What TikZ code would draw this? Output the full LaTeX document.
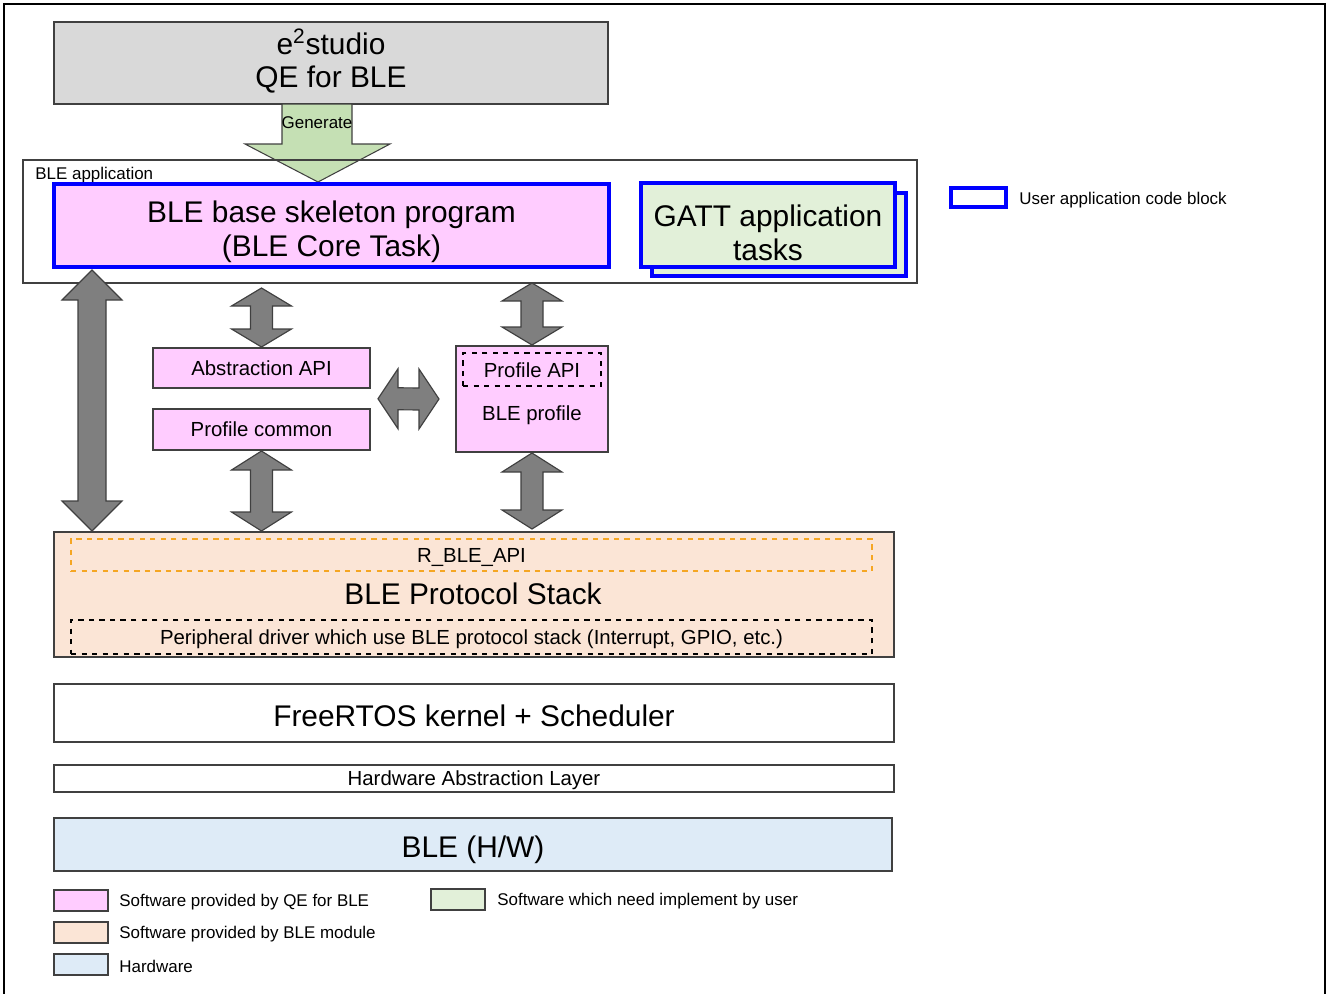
\documentclass[tikz,border=0pt]{standalone}
\usepackage{fontspec}
\setmainfont{Liberation Sans}
\usetikzlibrary{calc}
\definecolor{grayfill}{HTML}{D9D9D9}
\definecolor{pinkfill}{HTML}{FFCCFF}
\definecolor{peachfill}{HTML}{FBE5D6}
\definecolor{bluefill}{HTML}{DEEBF7}
\definecolor{greenfill}{HTML}{E2F0D9}
\definecolor{genfill}{HTML}{C5E0B4}
\definecolor{edgegray}{HTML}{404040}
\definecolor{arrfill}{HTML}{7F7F7F}
\definecolor{userblue}{HTML}{0000FF}
\definecolor{dashorange}{HTML}{F5A623}
\newcommand\lgfont{\fontsize{17}{19.2}\selectfont}
\newcommand\mdfont{\fontsize{11.6}{14}\selectfont}
\newcommand\smfont{\fontsize{9.65}{11}\selectfont}
\newcommand\bx[6]{\node[#1, minimum width={((#4)-(#2))*0.02cm}, minimum height={((#5)-(#3))*0.02cm}] (#6) at ({((#2)+(#4))/2},{((#3)+(#5))/2})}
\newcommand\vdarr[5]{\filldraw[darr] (#1) -- ($(#1)+(#4,#5)$) -- ($(#1)+(#3,#5)$) -- ($(#2)+(#3,-#5)$) -- ($(#2)+(#4,-#5)$) -- (#2) -- ($(#2)+(-#4,-#5)$) -- ($(#2)+(-#3,-#5)$) -- ($(#1)+(-#3,#5)$) -- ($(#1)+(-#4,#5)$) -- cycle;}
\newcommand\hdarr[5]{\filldraw[darr] (#1) -- ($(#1)+(#5,-#4)$) -- ($(#1)+(#5,-#3)$) -- ($(#2)+(-#5,-#3)$) -- ($(#2)+(-#5,-#4)$) -- (#2) -- ($(#2)+(-#5,#4)$) -- ($(#2)+(-#5,#3)$) -- ($(#1)+(#5,#3)$) -- ($(#1)+(#5,#4)$) -- cycle;}
\begin{document}
\begin{tikzpicture}[x=0.02cm,y=-0.02cm,
  base/.style={draw=edgegray, line width=0.6pt, inner sep=0pt, outer sep=0pt, align=center},
  userbox/.style={draw=userblue, line width=1.9pt, inner sep=0pt, outer sep=0pt, align=center},
  darr/.style={fill=arrfill, draw=edgegray, line width=0.65pt, line join=miter},
  genarr/.style={fill=genfill, draw=edgegray, line width=0.6pt},
  swatch/.style={base, minimum width={54*0.02cm}, minimum height={21*0.02cm}},
  txt/.style={inner sep=0pt, align=center},
  lbl/.style={anchor=west, inner sep=0pt, font=\smfont}]
\useasboundingbox (0,0) rectangle (1326,994);
% outer frame
\draw[line width=1.1pt] (4,1000) -- (4,4) -- (1325,4) -- (1325,1000);

% e2 studio
\bx{base, fill=grayfill}{54}{22}{608}{104}{e2} {};
\node[txt, font=\lgfont] (e2t) at ($(e2.center)+(0,-2)$) {e\textsuperscript{2}studio\\QE for BLE};
\coordinate (g) at (e2.south);
\filldraw[genarr] ($(g)+(-49,0)$) -- ($(g)+(21,0)$) -- ($(g)+(21,40)$) -- ($(g)+(59,40)$) -- ($(g)+(-13,78)$) -- ($(g)+(-86,40)$) -- ($(g)+(-49,40)$) -- cycle;
\node[font=\smfont, inner sep=0pt] (gen) at ($(g)+(-14,19)$) {Generate};

% BLE application frame
\bx{base, line width=0.7pt}{23}{160}{917}{283}{app} {};
\node[lbl] (applbl) at (35,175) {BLE application};
\bx{userbox, fill=pinkfill}{54}{184}{609}{267}{skel} {};
\node[txt, font=\lgfont] (skelt) at ($(skel.center)+(0,6)$) {BLE base skeleton program\\(BLE Core Task)};
\bx{userbox, fill=greenfill}{652}{193}{906}{276}{gattb} {};
\bx{userbox, fill=greenfill}{641}{183}{895}{267}{gatt} {};
\node[txt, font=\lgfont] (gattt) at ($(gatt.center)+(0,8)$) {GATT application\\tasks};

% legend top right
\bx{userbox}{951}{188}{1006}{207}{ulg} {};
\node[lbl] (ulgt) at (1019,200) {User application code block};

% middle boxes
\bx{base, fill=pinkfill, font=\mdfont}{153}{348}{370}{388}{abs} {Abstraction API};
\bx{base, fill=pinkfill, font=\mdfont}{153}{409}{370}{450}{common} {Profile common};
\bx{base, fill=pinkfill}{456}{346}{608}{452}{prof} {};
\bx{draw=black, dashed, line width=0.6pt, inner sep=0pt, font=\mdfont}{463}{353}{601}{386}{papi} {};
\node[txt, font=\mdfont] (papit) at ($(papi.center)+(0,1)$) {Profile API};
\node[txt, font=\mdfont] (bprof) at (532,415) {BLE profile};

% protocol stack
\bx{base, fill=peachfill}{54}{532}{894}{657}{stack} {};
\bx{draw=dashorange, dashed, line width=0.6pt, inner sep=0pt}{71}{539}{872}{571}{rble} {};
\node[txt, font=\mdfont] (rblet) at ($(rble.center)+(0,3)$) {R\_BLE\_API};
\node[txt, font=\lgfont] (stackt) at (473,594) {BLE Protocol Stack};
\bx{draw=black, dashed, line width=0.6pt, inner sep=0pt}{71}{620}{872}{654}{periph} {};
\node[txt, font=\mdfont] (periphT) at ($(periph.center)+(0,2)$) {Peripheral driver which use BLE protocol stack (Interrupt, GPIO, etc.)};

% lower layers
\bx{base, fill=white}{54}{684}{894}{742}{rtos} {};
\node[txt, font=\lgfont] (rtost) at ($(rtos.center)+(0,3)$) {FreeRTOS kernel + Scheduler};
\bx{base, fill=white}{54}{765}{894}{792}{hal} {};
\node[txt, font=\mdfont] (halt) at ($(hal.center)+(0,2)$) {Hardware Abstraction Layer};
\bx{base, fill=bluefill}{54}{818}{892}{871}{hw} {};
\node[txt, font=\lgfont] (hwt) at ($(hw.center)+(0,5)$) {BLE (H/W)};

% double arrows
\coordinate (a1t) at ($(skel.south west)+(38,3)$);
\coordinate (a1b) at ($(stack.north west)+(38,-1)$);
\vdarr{a1t}{a1b}{14}{30}{30}
\coordinate (a2t) at ($(app.south -| abs.north)+(0,5)$);
\coordinate (a2b) at ($(abs.north)+(0,-1)$);
\vdarr{a2t}{a2b}{11}{30}{18}
\coordinate (a3t) at (app.south -| prof.north);
\coordinate (a3b) at ($(prof.north)+(0,-1)$);
\vdarr{a3t}{a3b}{11}{30}{18}
\coordinate (a4t) at ($(common.south)+(0,1)$);
\coordinate (a4b) at ($(stack.north -| common.south)+(0,-1)$);
\vdarr{a4t}{a4b}{11}{30}{19}
\coordinate (a5t) at ($(prof.south)+(0,1)$);
\coordinate (a5b) at ($(stack.north -| prof.south)+(0,-3)$);
\vdarr{a5t}{a5b}{11}{30}{19}
\coordinate (hl) at ($($(abs.east)!0.5!(common.east)$)+(8,0)$);
\coordinate (hr) at ($(prof.west)+(-17,0)$);
\hdarr{hl}{hr}{11}{30}{20}

% legend bottom
\bx{swatch, fill=pinkfill}{54}{890}{108}{911}{lg1} {};
\node[lbl] (lg1t) at (119,902) {Software provided by QE for BLE};
\bx{swatch, fill=peachfill}{54}{922}{108}{943}{lg2} {};
\node[lbl] (lg2t) at (119,934) {Software provided by BLE module};
\bx{swatch, fill=bluefill}{54}{954}{108}{975}{lg3} {};
\node[lbl] (lg3t) at (119,966) {Hardware};
\bx{swatch, fill=greenfill}{431}{889}{485}{910}{lg4} {};
\node[lbl] (lg4t) at (497,901) {Software which need implement by user};
\end{tikzpicture}
\end{document}
